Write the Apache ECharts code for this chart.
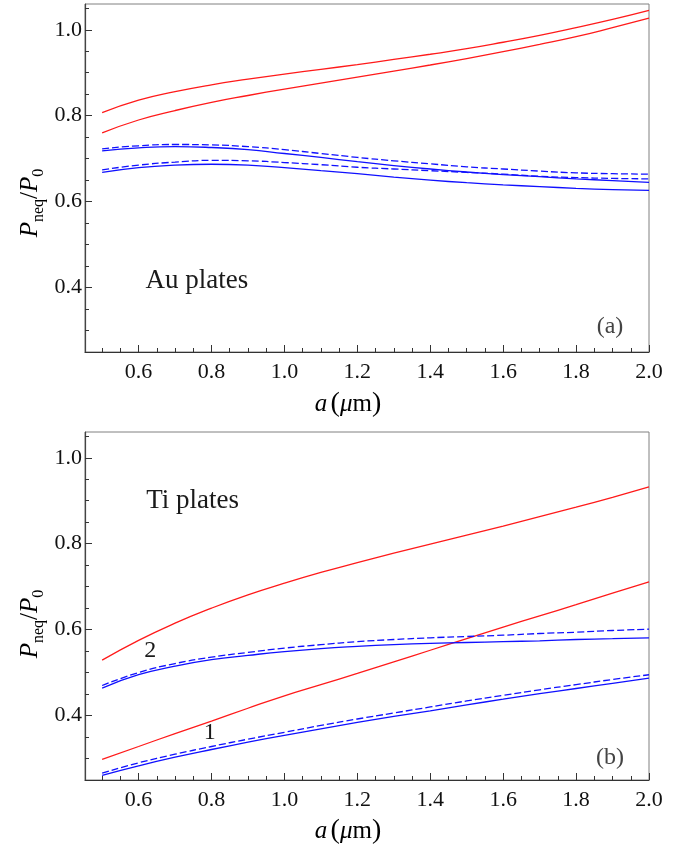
<!DOCTYPE html>
<html>
<head>
<meta charset="utf-8">
<script src="https://cdn.jsdelivr.net/npm/echarts@6/dist/echarts.min.js"></script>
<style>
  html, body { margin: 0; padding: 0; background: #ffffff; }
  #chart { width: 685px; height: 847px; }
</style>
</head>
<body>
<div id="chart"></div>
<script>
// Plate separation a (μm) at which each curve is sampled
const aValues = [0.5, 0.6, 0.7, 0.8, 0.9, 1.0, 1.1, 1.2, 1.3, 1.4, 1.5, 1.6, 1.7, 1.8, 1.9, 2.0];

// (a) Au plates
const auRedUpper        = [0.807, 0.836, 0.856, 0.872, 0.885, 0.897, 0.908, 0.919, 0.931, 0.943, 0.956, 0.971, 0.987, 1.005, 1.024, 1.045];
const auRedLower        = [0.760, 0.790, 0.812, 0.831, 0.847, 0.862, 0.876, 0.890, 0.904, 0.918, 0.933, 0.949, 0.966, 0.984, 1.005, 1.027];
const auBlueUpperDashed = [0.723, 0.730, 0.733, 0.732, 0.728, 0.721, 0.712, 0.703, 0.695, 0.688, 0.681, 0.676, 0.671, 0.667, 0.665, 0.664];
const auBlueUpperSolid  = [0.718, 0.725, 0.728, 0.726, 0.721, 0.712, 0.703, 0.693, 0.684, 0.676, 0.669, 0.663, 0.658, 0.653, 0.649, 0.645];
const auBlueLowerDashed = [0.674, 0.685, 0.692, 0.696, 0.695, 0.691, 0.686, 0.680, 0.676, 0.672, 0.668, 0.664, 0.659, 0.656, 0.654, 0.653];
const auBlueLowerSolid  = [0.668, 0.679, 0.685, 0.687, 0.685, 0.679, 0.672, 0.665, 0.657, 0.650, 0.644, 0.639, 0.635, 0.631, 0.628, 0.626];

// (b) Ti plates
const tiRedUpper    = [0.529, 0.575, 0.615, 0.650, 0.681, 0.708, 0.733, 0.756, 0.778, 0.799, 0.820, 0.841, 0.863, 0.885, 0.908, 0.932];
const tiRedLower    = [0.298, 0.328, 0.358, 0.387, 0.417, 0.446, 0.472, 0.498, 0.525, 0.552, 0.579, 0.606, 0.632, 0.658, 0.685, 0.711];
const tiBlue2Dashed = [0.470, 0.500, 0.521, 0.536, 0.547, 0.557, 0.565, 0.572, 0.577, 0.581, 0.584, 0.587, 0.591, 0.594, 0.598, 0.601];
const tiBlue2Solid  = [0.464, 0.495, 0.515, 0.530, 0.540, 0.549, 0.556, 0.561, 0.565, 0.568, 0.570, 0.572, 0.574, 0.577, 0.579, 0.581];
const tiBlue1Dashed = [0.266, 0.290, 0.310, 0.328, 0.345, 0.361, 0.377, 0.392, 0.406, 0.420, 0.434, 0.447, 0.460, 0.472, 0.484, 0.495];
const tiBlue1Solid  = [0.261, 0.283, 0.303, 0.321, 0.338, 0.354, 0.369, 0.384, 0.398, 0.411, 0.425, 0.438, 0.451, 0.463, 0.475, 0.487];

// Axis ticks
const xMajorTicks = [0.6, 0.8, 1.0, 1.2, 1.4, 1.6, 1.8, 2.0];
const xMinorTicks = [0.5, 0.55, 0.65, 0.7, 0.75, 0.85, 0.9, 0.95, 1.05, 1.1, 1.15, 1.25, 1.3, 1.35,
                     1.45, 1.5, 1.55, 1.65, 1.7, 1.75, 1.85, 1.9, 1.95];
const yMajorTicks = [0.4, 0.6, 0.8, 1.0];
const yMinorTicks = [0.3, 0.35, 0.45, 0.5, 0.55, 0.65, 0.7, 0.75, 0.85, 0.9, 0.95, 1.05];

const X_MIN = 0.453, X_MAX = 2.0;
const Y_MIN = 0.25, Y_MAX = 1.06;

const SERIF = '"Liberation Serif", "DejaVu Serif", serif';
const RED = '#ff1a1a';
const BLUE = '#1010ff';

const chart = echarts.init(document.getElementById('chart'), null, { renderer: 'canvas' });

const grids = [
  { left: 85, right: 36, top: 4, height: 348, show: true, borderColor: '#808080', borderWidth: 1 },
  { left: 85, right: 36, top: 432, height: 348, show: true, borderColor: '#808080', borderWidth: 1 }
];

function xAxesFor(g) {
  return [
    {
      type: 'value', gridIndex: g, min: X_MIN, max: X_MAX, position: 'bottom',
      axisLine: { show: true, onZero: false, lineStyle: { color: '#333', width: 1.2 } },
      axisTick: { show: true, inside: true, length: 7, customValues: xMajorTicks, lineStyle: { color: '#333' } },
      axisLabel: {
        show: true, customValues: xMajorTicks, margin: 9,
        formatter: v => v.toFixed(1),
        fontFamily: SERIF, fontSize: 22, color: '#111'
      },
      splitLine: { show: false }
    },
    {
      type: 'value', gridIndex: g, min: X_MIN, max: X_MAX, position: 'bottom',
      axisLine: { show: false },
      axisTick: { show: true, inside: true, length: 4, customValues: xMinorTicks, lineStyle: { color: '#333' } },
      axisLabel: { show: false },
      splitLine: { show: false }
    }
  ];
}

function yAxesFor(g) {
  return [
    {
      type: 'value', gridIndex: g, min: Y_MIN, max: Y_MAX, position: 'left',
      axisLine: { show: true, onZero: false, lineStyle: { color: '#444', width: 1.2 } },
      axisTick: { show: true, inside: true, length: 7, customValues: yMajorTicks, lineStyle: { color: '#333' } },
      axisLabel: {
        show: true, customValues: yMajorTicks, margin: 3,
        formatter: v => v.toFixed(1),
        fontFamily: SERIF, fontSize: 22, color: '#111'
      },
      splitLine: { show: false }
    },
    {
      type: 'value', gridIndex: g, min: Y_MIN, max: Y_MAX, position: 'left',
      axisLine: { show: false },
      axisTick: { show: true, inside: true, length: 4, customValues: yMinorTicks, lineStyle: { color: '#333' } },
      axisLabel: { show: false },
      splitLine: { show: false }
    }
  ];
}

function curve(name, values, color, dashed, g) {
  return {
    name: name,
    type: 'line',
    xAxisIndex: g * 2,
    yAxisIndex: g * 2,
    data: aValues.map((a, i) => [a, values[i]]),
    showSymbol: false,
    symbol: 'none',
    smooth: 0.5,
    silent: true,
    lineStyle: { color: color, width: 1.3, type: dashed ? [7, 3] : 'solid' },
    z: dashed ? 3 : 2
  };
}

const series = [
  curve('Au red upper', auRedUpper, RED, false, 0),
  curve('Au red lower', auRedLower, RED, false, 0),
  curve('Au blue upper dashed', auBlueUpperDashed, BLUE, true, 0),
  curve('Au blue upper', auBlueUpperSolid, BLUE, false, 0),
  curve('Au blue lower dashed', auBlueLowerDashed, BLUE, true, 0),
  curve('Au blue lower', auBlueLowerSolid, BLUE, false, 0),
  curve('Ti red upper', tiRedUpper, RED, false, 1),
  curve('Ti red lower', tiRedLower, RED, false, 1),
  curve('Ti blue 2 dashed', tiBlue2Dashed, BLUE, true, 1),
  curve('Ti blue 2', tiBlue2Solid, BLUE, false, 1),
  curve('Ti blue 1 dashed', tiBlue1Dashed, BLUE, true, 1),
  curve('Ti blue 1', tiBlue1Solid, BLUE, false, 1)
];

chart.setOption({
  animation: false,
  backgroundColor: '#ffffff',
  grid: grids,
  xAxis: xAxesFor(0).concat(xAxesFor(1)),
  yAxis: yAxesFor(0).concat(yAxesFor(1)),
  series: series
});

// Axis titles and in-panel annotations
const titleRich = {
  i: { fontFamily: SERIF, fontStyle: 'italic', fontSize: 25, lineHeight: 33, color: '#111' },
  n: { fontFamily: SERIF, fontSize: 25, lineHeight: 33, color: '#111' },
  p: { fontFamily: SERIF, fontSize: 28, lineHeight: 33, color: '#111' },
  s: { fontFamily: SERIF, fontSize: 16, lineHeight: 16, verticalAlign: 'bottom', color: '#111' }
};
const yTitle = '{i|P}{s|neq}{n|/}{i|P}{s|0}';
const xTitle = '{i|a} {p|(}{i|μ}{n|m}{p|)}';

function titleText(text, x, y, rotation) {
  return {
    type: 'text', x: x, y: y, rotation: rotation || 0, silent: true,
    style: { text: text, rich: titleRich, align: 'center', verticalAlign: 'middle' }
  };
}

function annotation(g, coord, text, size, align, color) {
  const p = chart.convertToPixel({ gridIndex: g }, coord);
  return {
    type: 'text', x: p[0], y: p[1], silent: true,
    style: {
      text: text, fontFamily: SERIF, fontSize: size, fill: color || '#1a1a1a',
      align: align || 'center', verticalAlign: 'middle'
    }
  };
}

chart.setOption({
  graphic: [
    titleText(yTitle, 30, 203, Math.PI / 2),
    titleText(yTitle, 30, 624, Math.PI / 2),
    titleText(xTitle, 348, 404),
    titleText(xTitle, 348, 831),
    annotation(0, [0.619, 0.415], 'Au plates', 27, 'left'),
    annotation(0, [1.893, 0.308], '(a)', 24, 'center', '#444'),
    annotation(1, [0.621, 0.899], 'Ti plates', 27, 'left'),
    annotation(1, [1.893, 0.301], '(b)', 24, 'center', '#444'),
    annotation(1, [0.632, 0.550], '2', 24),
    annotation(1, [0.795, 0.359], '1', 24)
  ]
});
</script>
</body>
</html>
